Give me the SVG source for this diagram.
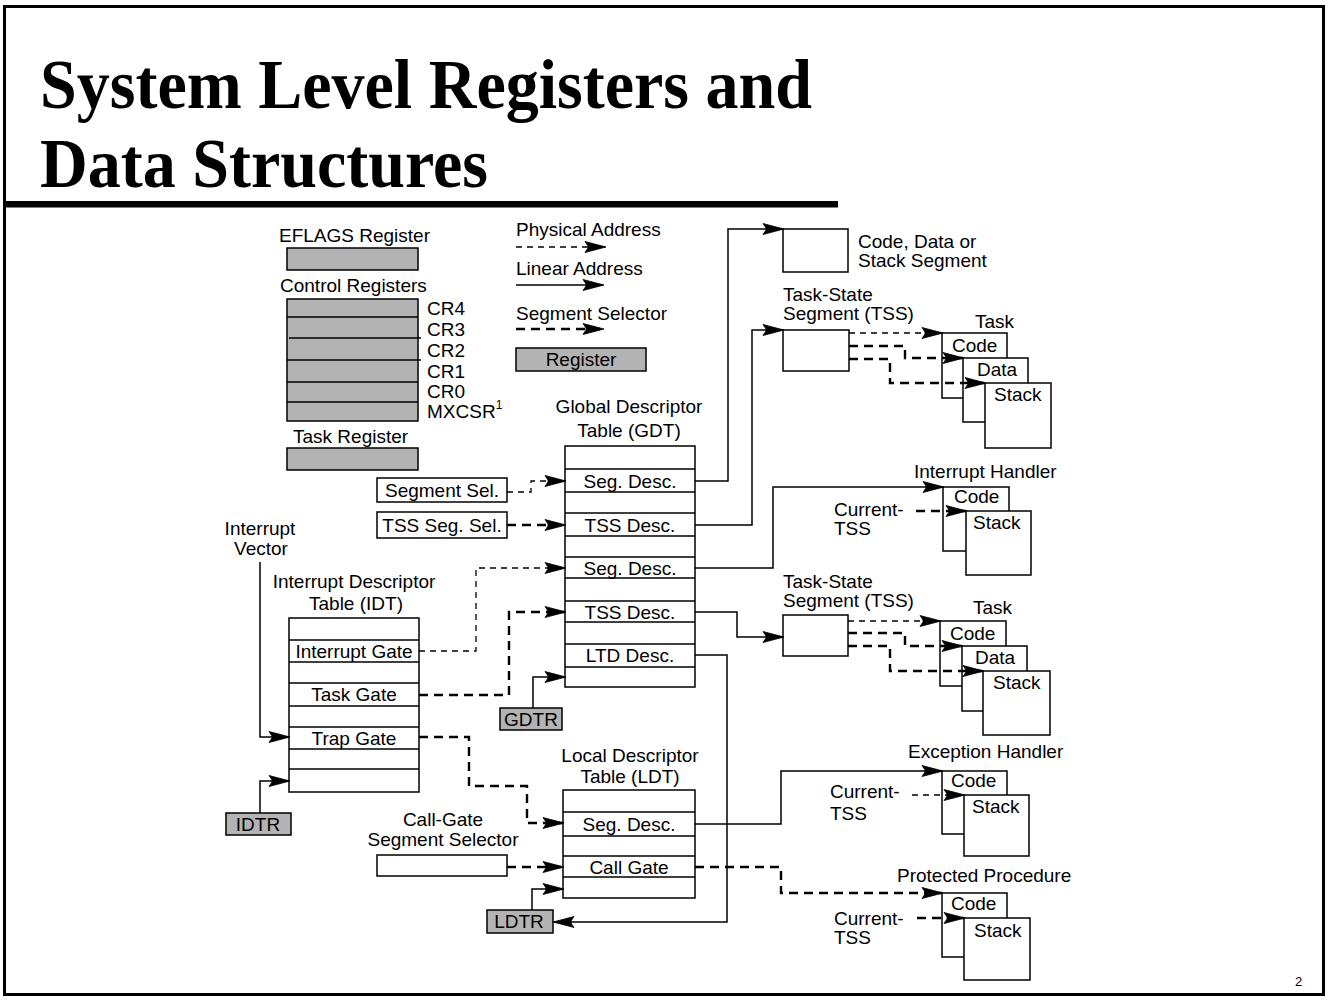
<svg xmlns="http://www.w3.org/2000/svg" width="1330" height="1003" viewBox="0 0 1330 1003">
<style>
.t{font-family:"Liberation Sans",Arial,sans-serif;font-size:19px;fill:#000}
.m{text-anchor:middle}
.ttl{font-family:"Liberation Serif","Times New Roman",serif;font-weight:bold;font-size:70px;fill:#000}
.box{fill:#fff;stroke:#000;stroke-width:1.5}
.reg{fill:#b3b3b3;stroke:#000;stroke-width:1.5}
.ln{fill:none;stroke:#000;stroke-width:1.5}
.dt{fill:none;stroke:#000;stroke-width:1.3;stroke-dasharray:6 5}
.db{fill:none;stroke:#000;stroke-width:2.4;stroke-dasharray:9 6}
.arrowhead{fill:#000;stroke:#000;stroke-width:0.8}
</style>
<defs>
<marker id="ah" markerUnits="userSpaceOnUse" markerWidth="28" markerHeight="16" viewBox="-24 -8 28 16" refX="0" refY="0" orient="auto">
<path class="arrowhead" d="M1,0 L-20,-5.5 L-17,-1 L-17,1 L-20,5.5 Z"/>
</marker>
</defs>
<rect x="0" y="0" width="1330" height="1003" fill="#fff"/>
<rect x="4.5" y="6.5" width="1319" height="988" fill="none" stroke="#000" stroke-width="3"/>
<g id="title">
<text class="ttl" x="40" y="108" textLength="772" lengthAdjust="spacingAndGlyphs">System Level Registers and</text>
<text class="ttl" x="40" y="187" textLength="448" lengthAdjust="spacingAndGlyphs">Data Structures</text>
<rect x="5" y="201" width="833" height="6.5" fill="#000"/>
</g>

<g id="eflags">
<text class="t" x="279" y="242">EFLAGS Register</text>
<rect class="reg" x="287" y="248" width="131" height="22"/>
</g>
<g id="control-registers">
<text class="t" x="280" y="292">Control Registers</text>
<rect class="reg" x="287" y="299" width="131" height="122"/>
<path class="ln" d="M287,317H418M289,338H421M287,360H421M287,382H418M287,402H418"/>
<text class="t" x="427" y="315">CR4</text>
<text class="t" x="427" y="336">CR3</text>
<text class="t" x="427" y="357">CR2</text>
<text class="t" x="427" y="378">CR1</text>
<text class="t" x="427" y="398">CR0</text>
<text class="t" x="427" y="418">MXCSR<tspan font-size="12" dy="-9">1</tspan></text>
</g>
<g id="task-register">
<text class="t" x="293" y="443">Task Register</text>
<rect class="reg" x="287" y="448" width="131" height="22"/>
</g>

<g id="legend">
<text class="t" x="516" y="236">Physical Address</text>
<text class="t" x="516" y="275">Linear Address</text>
<text class="t" x="516" y="320">Segment Selector</text>
<rect class="reg" x="516" y="348" width="130" height="23"/>
<text class="t m" x="581" y="366">Register</text>
</g>

<g id="code-data-stack-segment">
<rect class="box" x="783" y="229" width="65" height="43"/>
<text class="t" x="858" y="248">Code, Data or</text>
<text class="t" x="858" y="267">Stack Segment</text>
</g>

<g id="tss1">
<text class="t" x="783" y="301">Task-State</text>
<text class="t" x="783" y="320">Segment (TSS)</text>
<rect class="box" x="783" y="330" width="66" height="41"/>
</g>
<g id="task1">
<text class="t" x="975" y="328">Task</text>
<rect class="box" x="942" y="333" width="65" height="65"/>
<text class="t" x="952" y="352">Code</text>
<rect class="box" x="963" y="358" width="65" height="64"/>
<text class="t" x="977" y="376">Data</text>
<rect class="box" x="985" y="383" width="66" height="65"/>
<text class="t" x="994" y="401">Stack</text>
</g>

<g id="gdt">
<text class="t m" x="629" y="413">Global Descriptor</text>
<text class="t m" x="629" y="437">Table (GDT)</text>
<rect class="box" x="565" y="446" width="130" height="241"/>
<path class="ln" d="M565,469H695M565,492H695M565,513H695M565,536H695M565,557H695M565,578H695M565,601H695M565,622H695M565,644H695M565,667H695"/>
<text class="t m" x="630" y="488">Seg. Desc.</text>
<text class="t m" x="630" y="532">TSS Desc.</text>
<text class="t m" x="630" y="575">Seg. Desc.</text>
<text class="t m" x="630" y="619">TSS Desc.</text>
<text class="t m" x="630" y="662">LTD Desc.</text>
</g>

<g id="segment-sel">
<rect class="box" x="377" y="478" width="130" height="24"/>
<text class="t m" x="442" y="497">Segment Sel.</text>
</g>
<g id="tss-seg-sel">
<rect class="box" x="377" y="512" width="130" height="26"/>
<text class="t m" x="442" y="532">TSS Seg. Sel.</text>
</g>
<g id="gdtr">
<rect class="reg" x="500" y="708" width="62" height="22"/>
<text class="t m" x="531" y="726">GDTR</text>
</g>

<g id="interrupt-handler">
<text class="t" x="914" y="478">Interrupt Handler</text>
<rect class="box" x="943" y="487" width="66" height="64"/>
<text class="t" x="954" y="503">Code</text>
<rect class="box" x="966" y="511" width="65" height="64"/>
<text class="t" x="973" y="529">Stack</text>
<text class="t" x="834" y="516">Current-</text>
<text class="t" x="834" y="535">TSS</text>
</g>

<g id="tss2">
<text class="t" x="783" y="588">Task-State</text>
<text class="t" x="783" y="607">Segment (TSS)</text>
<rect class="box" x="783" y="615" width="65" height="41"/>
</g>
<g id="task2">
<text class="t" x="973" y="614">Task</text>
<rect class="box" x="940" y="621" width="66" height="65"/>
<text class="t" x="950" y="640">Code</text>
<rect class="box" x="962" y="646" width="65" height="65"/>
<text class="t" x="975" y="664">Data</text>
<rect class="box" x="983" y="671" width="67" height="64"/>
<text class="t" x="993" y="689">Stack</text>
</g>

<g id="interrupt-vector">
<text class="t m" x="260" y="535">Interrupt</text>
<text class="t m" x="261" y="555">Vector</text>
</g>
<g id="idt">
<text class="t m" x="354" y="588">Interrupt Descriptor</text>
<text class="t m" x="356" y="610">Table (IDT)</text>
<rect class="box" x="289" y="618" width="130" height="174"/>
<path class="ln" d="M289,640H419M289,662H419M289,683H419M289,706H419M289,727H419M289,749H419M289,769H419"/>
<text class="t m" x="354" y="658">Interrupt Gate</text>
<text class="t m" x="354" y="701">Task Gate</text>
<text class="t m" x="354" y="745">Trap Gate</text>
</g>
<g id="idtr">
<rect class="reg" x="226" y="813" width="65" height="22"/>
<text class="t m" x="258" y="831">IDTR</text>
</g>

<g id="ldt">
<text class="t m" x="630" y="762">Local Descriptor</text>
<text class="t m" x="630" y="783">Table (LDT)</text>
<rect class="box" x="563" y="790" width="132" height="108"/>
<path class="ln" d="M563,812H695M563,836H695M563,856H695M563,877H695"/>
<text class="t m" x="629" y="831">Seg. Desc.</text>
<text class="t m" x="629" y="874">Call Gate</text>
</g>
<g id="call-gate-selector">
<text class="t m" x="443" y="826">Call-Gate</text>
<text class="t m" x="443" y="846">Segment Selector</text>
<rect class="box" x="377" y="855" width="130" height="21"/>
</g>
<g id="ldtr">
<rect class="reg" x="487" y="910" width="66" height="23"/>
<text class="t m" x="519" y="928">LDTR</text>
</g>

<g id="exception-handler">
<text class="t" x="908" y="758">Exception Handler</text>
<rect class="box" x="942" y="771" width="65" height="63"/>
<text class="t" x="951" y="787">Code</text>
<rect class="box" x="964" y="795" width="65" height="61"/>
<text class="t" x="972" y="813">Stack</text>
<text class="t" x="830" y="798">Current-</text>
<text class="t" x="830" y="820">TSS</text>
</g>

<g id="protected-procedure">
<text class="t" x="897" y="882">Protected Procedure</text>
<rect class="box" x="942" y="893" width="65" height="64"/>
<text class="t" x="951" y="910">Code</text>
<rect class="box" x="964" y="918" width="66" height="62"/>
<text class="t" x="974" y="937">Stack</text>
<text class="t" x="834" y="925">Current-</text>
<text class="t" x="834" y="944">TSS</text>
</g>

<g id="connectors">
<path class="dt" d="M516,247H605" marker-end="url(#ah)"/>
<path class="ln" d="M516,285H603" marker-end="url(#ah)"/>
<path class="db" d="M516,329H603" marker-end="url(#ah)"/>

<path class="ln" d="M695,481H728V229H783" marker-end="url(#ah)"/>
<path class="ln" d="M695,525H752V330H783" marker-end="url(#ah)"/>
<path class="ln" d="M695,568H773V487H943" marker-end="url(#ah)"/>
<path class="ln" d="M695,612H737V637H783" marker-end="url(#ah)"/>
<path class="ln" d="M695,655H727V922H554" marker-end="url(#ah)"/>
<path class="ln" d="M533,708V677H565" marker-end="url(#ah)"/>

<path class="dt" d="M507,492H531V481H565" marker-end="url(#ah)"/>
<path class="db" d="M507,525H565" marker-end="url(#ah)"/>
<path class="dt" d="M419,651H476V568H565" marker-end="url(#ah)"/>
<path class="db" d="M419,695H509V612H565" marker-end="url(#ah)"/>
<path class="db" d="M419,737H469V786H527V823H563" marker-end="url(#ah)"/>

<path class="ln" d="M260,562V737H289" marker-end="url(#ah)"/>
<path class="ln" d="M260,813V781H289" marker-end="url(#ah)"/>

<path class="db" d="M507,867H563" marker-end="url(#ah)"/>
<path class="ln" d="M532,910V889H563" marker-end="url(#ah)"/>
<path class="ln" d="M695,824H781V771H942" marker-end="url(#ah)"/>
<path class="db" d="M695,867H781V893H942" marker-end="url(#ah)"/>

<path class="dt" d="M849,333H942" marker-end="url(#ah)"/>
<path class="db" d="M849,346H905V358H963" marker-end="url(#ah)"/>
<path class="db" d="M849,359H890V383H985" marker-end="url(#ah)"/>

<path class="dt" d="M848,621H940" marker-end="url(#ah)"/>
<path class="db" d="M848,633H905V646H962" marker-end="url(#ah)"/>
<path class="db" d="M848,646H890V671H983" marker-end="url(#ah)"/>

<path class="db" d="M916,511H966" marker-end="url(#ah)"/>
<path class="dt" d="M912,795H964" marker-end="url(#ah)"/>
<path class="db" d="M917,918H964" marker-end="url(#ah)"/>
</g>

<text x="1295" y="986" style="font-family:'Liberation Sans',Arial,sans-serif;font-size:13px">2</text>
</svg>
